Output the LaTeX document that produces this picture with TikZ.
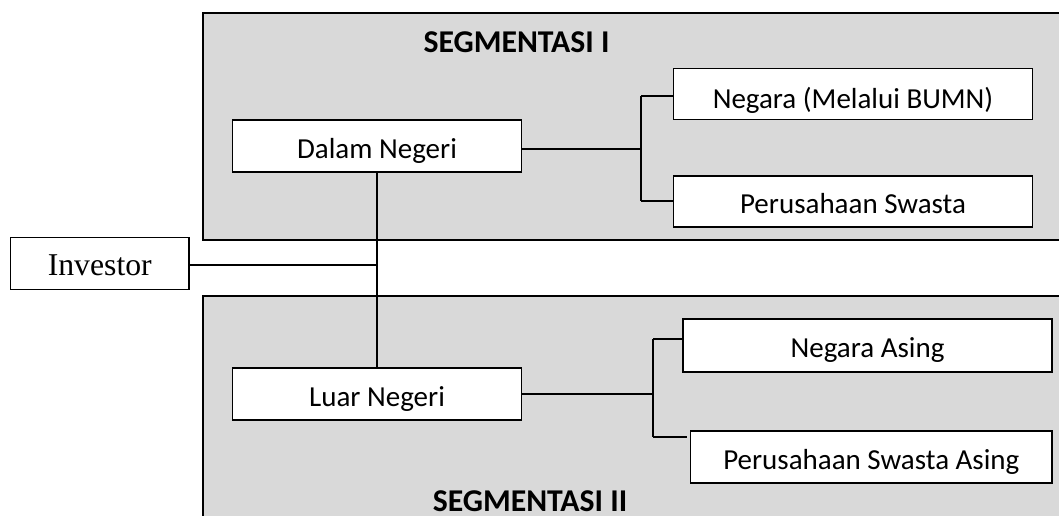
\documentclass[tikz,border=0pt]{standalone}
\usepackage{fontspec}
\setmainfont{Carlito}
\newfontfamily\timesfont{Liberation Serif}
\usetikzlibrary{calc}
\definecolor{seggray}{HTML}{D9D9D9}

\begin{document}
\begin{tikzpicture}[x=0.75pt,y=-0.75pt,
    segbox/.style={draw=black,line width=1.2pt,fill=seggray},
    segtitle/.style={font=\bfseries\fontsize{23.8}{28}\selectfont,anchor=base,inner sep=0pt},
    itembox/.style={draw=black,line width=1.1pt,fill=white,inner sep=0pt,
      font=\fontsize{21.75}{26}\selectfont,text height=18pt,text depth=0pt},
    link/.style={line width=0.9pt}]
    \useasboundingbox (0,0) rectangle (1059,515);
    \clip (0,0) rectangle (1059,515);

    % Segmentasi
    \draw[segbox] (203,13) rectangle (1075,240);
    \draw[segbox] (203,296) rectangle (1075,540);
    \node[segtitle] (segI) at (516.5,52) {SEGMENTASI I};
    \node[segtitle] (segII) at (530,511) {SEGMENTASI II};

    % Titik cabang
    \coordinate (jI) at (377,265);
    \coordinate (jAt) at (641,96);
    \coordinate (jAm) at (641,149);
    \coordinate (jAb) at (641,201);
    \coordinate (jBt) at (653,339);
    \coordinate (jBb) at (653,437);

    % Kotak
    \node[itembox,minimum width=133.9pt,minimum height=39pt,
      font=\timesfont\fontsize{23.8}{28}\selectfont,text height=19pt] (investor) at (99.8,263.3) {Investor};
    \node[itembox,minimum width=216.75pt,minimum height=39pt] (dalam) at (377,146) {Dalam Negeri};
    \node[itembox,minimum width=216.75pt,minimum height=39pt] (luar) at (377,394) {Luar Negeri};
    \node[itembox,minimum width=268.9pt,minimum height=38.25pt,text height=21.75pt] (bumn) at (853,94) {Negara (Melalui BUMN)};
    \node[itembox,minimum width=268.9pt,minimum height=38.25pt] (swasta) at (853,201.5) {Perusahaan Swasta};
    \node[itembox,minimum width=276.75pt,minimum height=39.75pt] (asing) at (867.5,345.5) {Negara Asing};
    \node[itembox,minimum width=271pt,minimum height=39pt] (swastaA) at (871.3,457) {Perusahaan Swasta Asing};

    % Garis penghubung
    \draw[link] (dalam) -- (luar);
    \draw[link] (investor.east |- jI) -- (jI);
    \draw[link] (dalam.east |- jAm) -- (jAm);
    \draw[link] (jAt) -- (jAb);
    \draw[link] (jAt) -- (jAt -| bumn.west);
    \draw[link] (jAb) -- (jAb -| swasta.west);
    \draw[link] (luar.east) -- (luar.east -| jBt);
    \draw[link] (jBt) -- (jBb);
    \draw[link] (jBt) -- ($(jBt -| asing.west)+(2,0)$);
    \draw[link,shorten >=2.5pt] (jBb) -- (jBb -| swastaA.west);
\end{tikzpicture}
\end{document}
